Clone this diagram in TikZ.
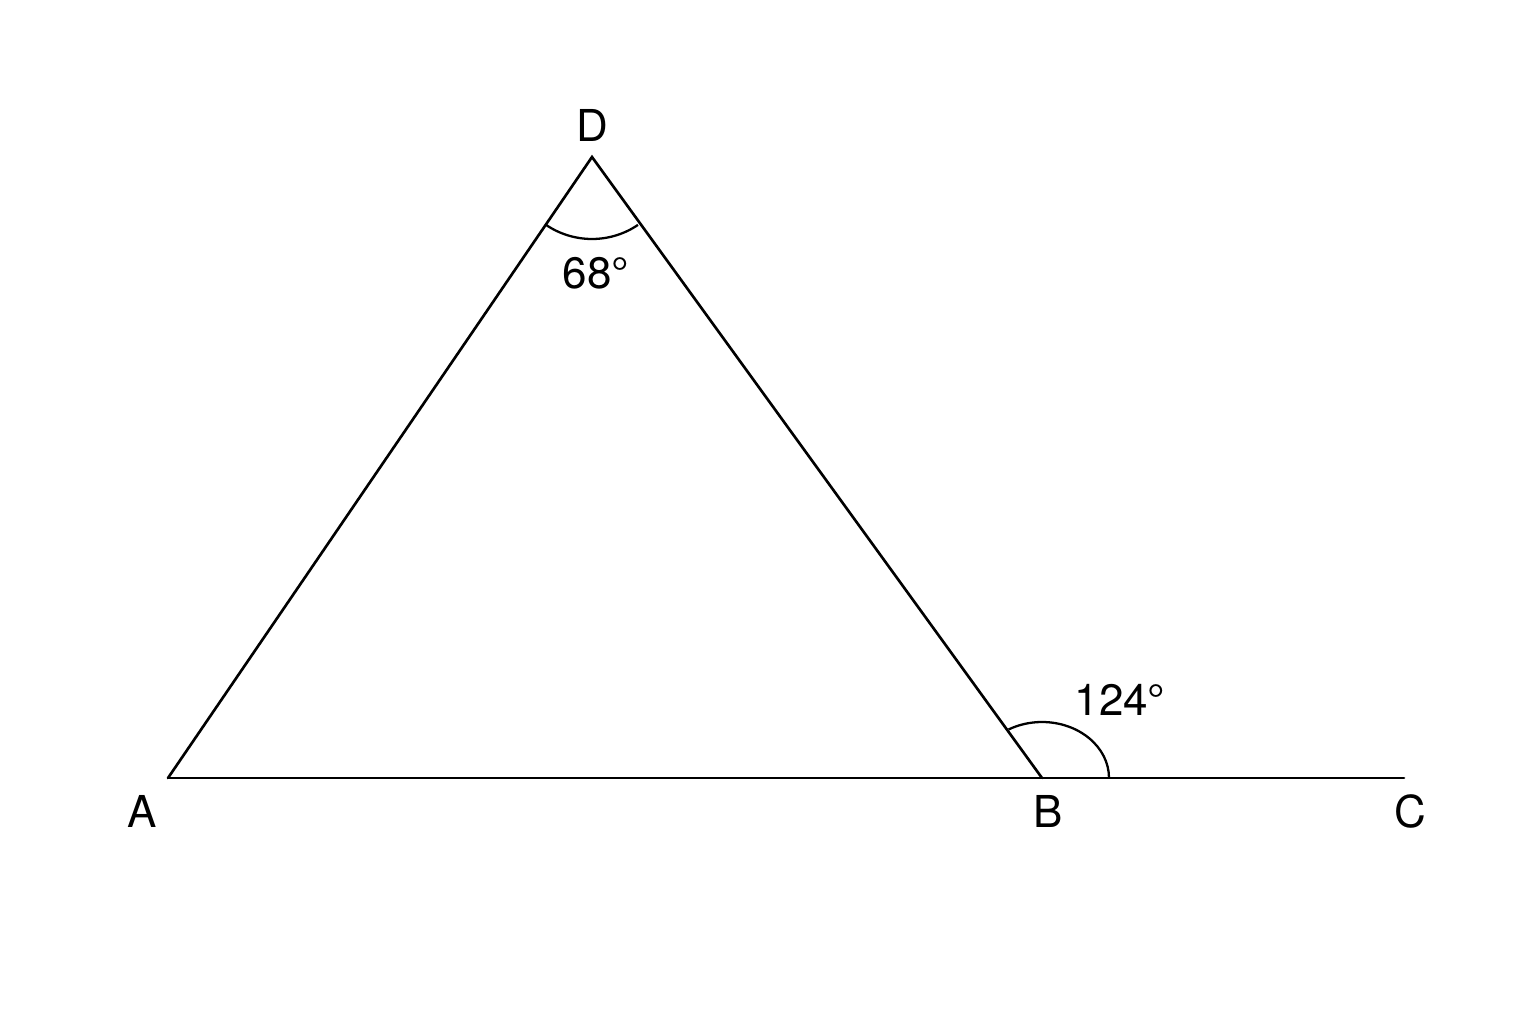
\documentclass[tikz,border=0pt]{standalone}
\usepackage{fontspec}
\setmainfont{TeX Gyre Heros}
\begin{document}
\begin{tikzpicture}[x=0.01cm,y=-0.01cm,
  edge/.style={line width=0.75pt,line cap=round,line join=miter},
  arcline/.style={line width=0.65pt},
  lbl/.style={font=\fontsize{12.5}{15}\selectfont,inner sep=0pt}]
\useasboundingbox (0,0) rectangle (1536,1024);
\fill[white] (0,0) rectangle (1536,1024);
\coordinate (A) at (168,778);
\coordinate (B) at (1042,778);
\coordinate (C) at (1404,778);
\coordinate (D) at (592,157);
\draw[edge] (A) -- (B) -- (C);
\draw[edge] (A) -- (D) -- (B);
% angle arcs (TikZ y is flipped: angles measured clockwise from +x)
\draw[arcline] ([shift={(124.3:82)}]D) arc[start angle=124.3, end angle=55.9, radius=82];
\draw[arcline] ([shift={(0:67)}]B) arc[start angle=0, end angle=-120, x radius=67, y radius=56];
\node[lbl] (lD) at (592,125) {D};
\node[lbl] (lA) at (142,811) {A};
\node[lbl] (lB) at (1048,811) {B};
\node[lbl] (lC) at (1410,811) {C};
\node[lbl] (a68) at (596,273) {68°};
\node[lbl] (a124) at (1120,700) {124°};
\end{tikzpicture}
\end{document}
